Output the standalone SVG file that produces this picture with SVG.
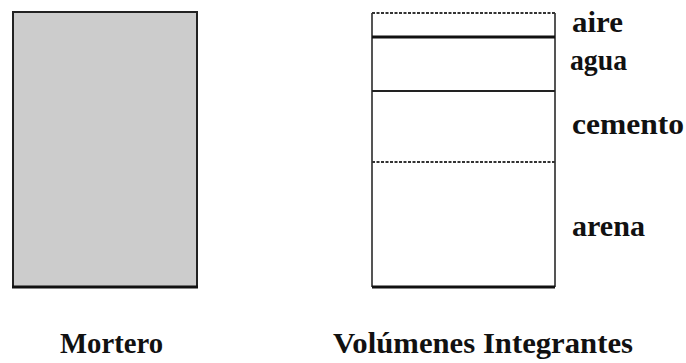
<svg xmlns="http://www.w3.org/2000/svg" width="686" height="363" viewBox="0 0 686 363">
<style>
.lbl{font-family:'Liberation Serif','DejaVu Serif','Times New Roman',serif;font-weight:700;font-size:30px;fill:#111}
.side{stroke:#555;stroke-width:2;fill:none}
.thick{stroke:#111;stroke-width:3}
.mid{stroke:#222;stroke-width:2}
.dot{stroke:#333;stroke-width:2;stroke-dasharray:3 1.5}
</style>
<rect width="686" height="363" fill="#fff"/>
<g id="mortero">
<rect x="13" y="12" width="184" height="275" fill="#cccccc" stroke="#222" stroke-width="2"/>
<line x1="12" y1="287" x2="198" y2="287" class="thick"/>
<text class="lbl" x="60" y="353" textLength="103" lengthAdjust="spacingAndGlyphs">Mortero</text>
</g>
<g id="volumenes">
<line x1="372" y1="13" x2="372" y2="287" class="side"/>
<line x1="555" y1="13" x2="555" y2="287" class="side"/>
<line x1="372" y1="13" x2="555" y2="13" class="dot"/>
<line x1="372" y1="37" x2="555" y2="37" class="thick"/>
<line x1="372" y1="91" x2="555" y2="91" class="mid"/>
<line x1="372" y1="162" x2="555" y2="162" class="dot"/>
<line x1="372" y1="287" x2="555" y2="287" class="thick"/>
<text class="lbl" x="333" y="353" textLength="300" lengthAdjust="spacingAndGlyphs">Volúmenes Integrantes</text>
</g>
<g id="aire"><text class="lbl" x="572" y="32" textLength="51" lengthAdjust="spacingAndGlyphs">aire</text></g>
<g id="agua"><text class="lbl" x="570" y="70" textLength="57" lengthAdjust="spacingAndGlyphs">agua</text></g>
<g id="cemento"><text class="lbl" x="572" y="134" textLength="112" lengthAdjust="spacingAndGlyphs">cemento</text></g>
<g id="arena"><text class="lbl" x="572" y="236" textLength="73" lengthAdjust="spacingAndGlyphs">arena</text></g>
<g id="connectors"></g>
</svg>
